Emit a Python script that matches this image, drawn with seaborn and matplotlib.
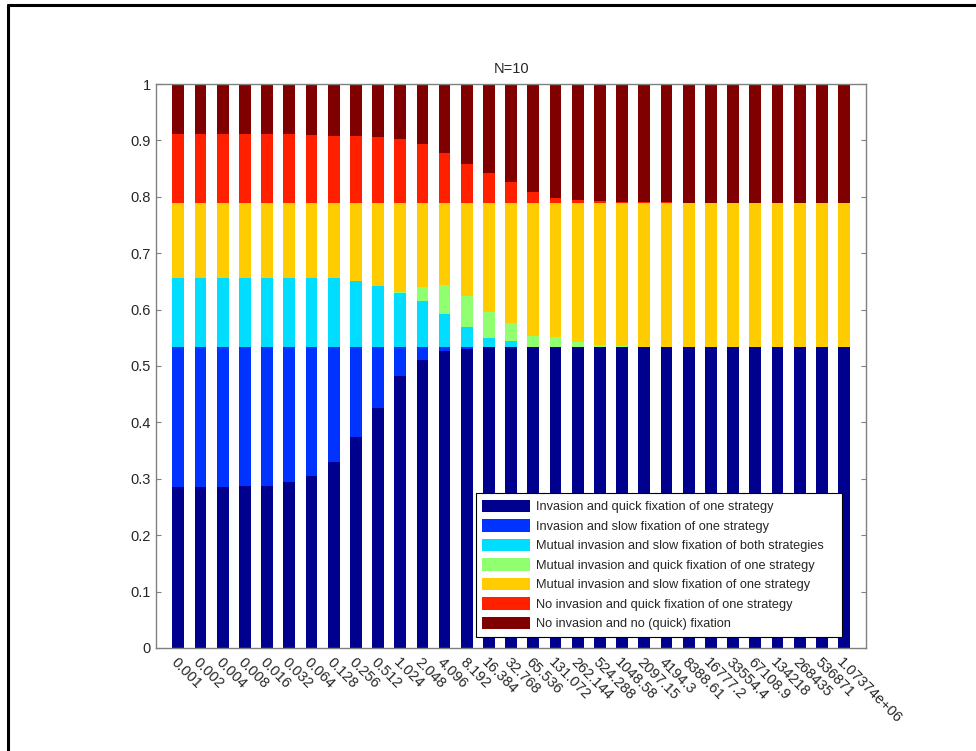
import numpy as np
import pandas as pd
import matplotlib
matplotlib.use("Agg")
import matplotlib.pyplot as plt
from matplotlib.patches import Patch
from matplotlib.lines import Line2D
import seaborn as sns

# Tick labels for the 31 parameter values
x_labels = ["0.001", "0.002", "0.004", "0.008", "0.016", "0.032", "0.064", "0.128",
            "0.256", "0.512", "1.024", "2.048", "4.096", "8.192", "16.384", "32.768",
            "65.536", "131.072", "262.144", "524.288", "1048.58", "2097.15", "4194.3",
            "8388.61", "16777.2", "33554.4", "67108.9", "134218", "268435", "536871",
            "1.07374e+06"]

# Fraction of runs in each outcome class (bottom to top of each stack)
quick_fix_one = [0.286, 0.286, 0.286, 0.287, 0.288, 0.295, 0.305, 0.330, 0.374, 0.426,
                 0.483, 0.511, 0.526, 0.531, 0.533, 0.533, 0.533, 0.533, 0.533, 0.533,
                 0.533, 0.533, 0.533, 0.533, 0.533, 0.533, 0.533, 0.533, 0.533, 0.533, 0.533]
slow_fix_one = [0.247, 0.247, 0.247, 0.246, 0.245, 0.238, 0.228, 0.203, 0.159, 0.107,
                0.050, 0.022, 0.007, 0.002, 0, 0, 0, 0, 0, 0,
                0, 0, 0, 0, 0, 0, 0, 0, 0, 0, 0]
mutual_slow_both = [0.123, 0.123, 0.123, 0.123, 0.123, 0.123, 0.123, 0.123, 0.117, 0.109,
                    0.097, 0.083, 0.059, 0.036, 0.017, 0.011, 0.001, 0, 0, 0,
                    0, 0, 0, 0, 0, 0, 0, 0, 0, 0, 0]
mutual_quick_one = [0, 0, 0, 0, 0, 0, 0, 0, 0, 0,
                    0.002, 0.024, 0.051, 0.055, 0.045, 0.033, 0.020, 0.018, 0.010, 0.005,
                    0.002, 0.001, 0, 0, 0, 0, 0, 0, 0, 0, 0]
mutual_slow_one = [0.133, 0.133, 0.133, 0.133, 0.133, 0.133, 0.133, 0.133, 0.139, 0.147,
                   0.157, 0.149, 0.146, 0.165, 0.194, 0.212, 0.235, 0.238, 0.246, 0.251,
                   0.254, 0.255, 0.256, 0.256, 0.256, 0.256, 0.256, 0.256, 0.256, 0.256, 0.256]
no_inv_quick = [0.122, 0.122, 0.122, 0.122, 0.122, 0.122, 0.121, 0.119, 0.118, 0.117,
                0.113, 0.105, 0.089, 0.070, 0.054, 0.037, 0.020, 0.009, 0.006, 0.004,
                0.002, 0.002, 0.001, 0, 0, 0, 0, 0, 0, 0, 0]
no_inv_no_fix = [0.089, 0.089, 0.089, 0.089, 0.089, 0.089, 0.090, 0.092, 0.093, 0.094,
                 0.098, 0.106, 0.122, 0.141, 0.157, 0.174, 0.191, 0.202, 0.205, 0.207,
                 0.209, 0.209, 0.210, 0.211, 0.211, 0.211, 0.211, 0.211, 0.211, 0.211, 0.211]

series_names = ["Invasion and quick fixation of one strategy",
                "Invasion and slow fixation of one strategy",
                "Mutual invasion and slow fixation of both strategies",
                "Mutual invasion and quick fixation of one strategy",
                "Mutual invasion and slow fixation of one strategy",
                "No invasion and quick fixation of one strategy",
                "No invasion and no (quick) fixation"]
series_colors = ["#00008F", "#0033FF", "#00DDFF", "#90FF70", "#FFCC00", "#FF2000", "#800000"]

sns.set_theme(style="white")
plt.rcParams["font.family"] = ["Liberation Sans", "DejaVu Sans"]

layers = np.array([quick_fix_one, slow_fix_one, mutual_slow_both, mutual_quick_one,
                   mutual_slow_one, no_inv_quick, no_inv_no_fix])
tops = np.cumsum(layers, axis=0)

fig = plt.figure(figsize=(9.76, 7.51), dpi=100)
ax = fig.add_axes([0.160, 0.1372, 0.7275, 0.7509])

# Draw cumulative heights from the top layer down so each one covers the next
for k in range(len(series_names) - 1, -1, -1):
    df = pd.DataFrame({"x": x_labels, "y": tops[k]})
    sns.barplot(data=df, x="x", y="y", order=x_labels, color=series_colors[k],
                saturation=1, width=0.53, linewidth=0, ax=ax)

ax.set_xlim(-1, len(x_labels))
ax.set_ylim(0, 1)
ax.set_xlabel("")
ax.set_ylabel("")
ax.set_title("N=10", fontsize=10.5, pad=8)

yt = np.round(np.arange(0, 1.01, 0.1), 1)
ax.set_yticks(yt)
ax.set_yticklabels(["0", "0.1", "0.2", "0.3", "0.4", "0.5", "0.6", "0.7", "0.8", "0.9", "1"])
ax.set_xticks(range(len(x_labels)))
ax.set_xticklabels(x_labels, rotation=-45, ha="left", va="top", rotation_mode="anchor")
ax.tick_params(axis="y", direction="in", length=3.5, width=0.8, color="#808080",
               left=True, right=True, labelsize=10.5, pad=4)
ax.tick_params(axis="x", direction="in", length=0, labelsize=10.5, pad=5)

for s in ax.spines.values():
    s.set_color("#808080")
    s.set_linewidth(1.0)

handles = [Patch(facecolor=c, edgecolor="none") for c in series_colors]
leg = ax.legend(handles, series_names, loc="lower left",
                bbox_to_anchor=(0.4503, 0.020, 0.5163, 0.3), mode="expand",
                borderaxespad=0, fontsize=9.2, frameon=True, fancybox=False,
                edgecolor="black", framealpha=1, handlelength=3.75, handleheight=1.17,
                labelspacing=0.45, borderpad=0.5, handletextpad=0.45)
leg.get_frame().set_linewidth(0.8)

# Outer frame along the left and top edges
fig.add_artist(Line2D([8 / 976, 8 / 976], [0, 1 - 5 / 751], color="black", lw=2.2,
                      transform=fig.transFigure))
fig.add_artist(Line2D([8 / 976, 1], [1 - 5 / 751, 1 - 5 / 751], color="black", lw=2.2,
                      transform=fig.transFigure))

fig.savefig("out.png", dpi=100)
